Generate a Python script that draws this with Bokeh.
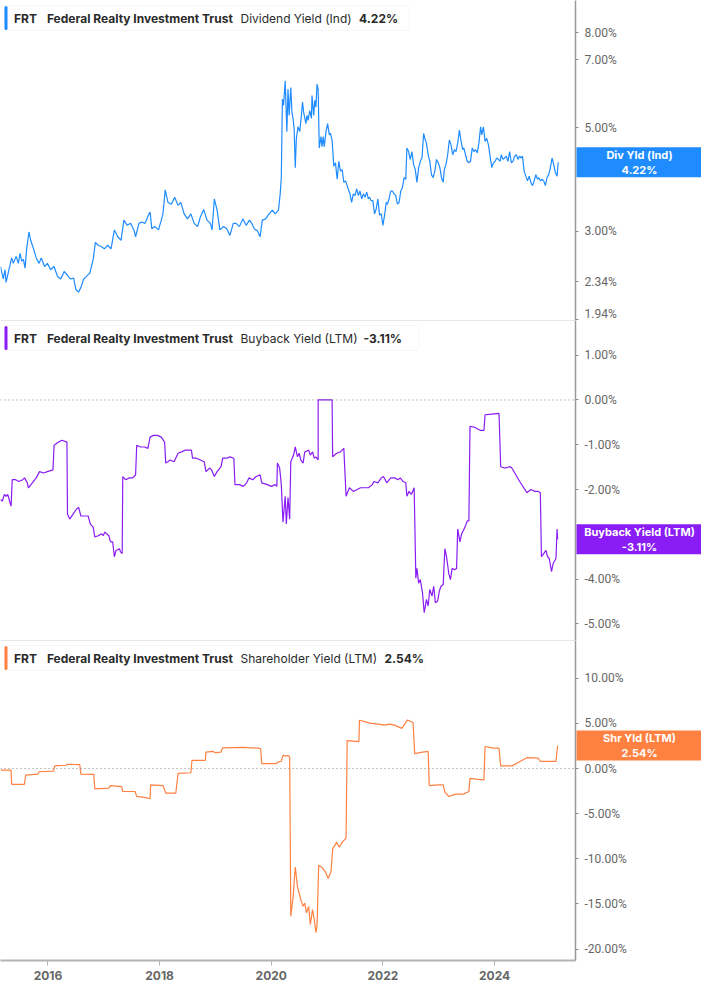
from bokeh.plotting import figure
from bokeh.layouts import column
from bokeh.models import (Range1d, FixedTicker, PrintfTickFormatter, Span, Label,
                          BoxAnnotation, GridBox)
from bokeh.core.properties import value
from bokeh.embed import file_html
from bokeh.resources import INLINE

# ---------------- data ----------------
ticker = "FRT"
company = "Federal Realty Investment Trust"
metric_names = ["Dividend Yield (Ind)", "Buyback Yield (LTM)", "Shareholder Yield (LTM)"]
short_names = ["Div Yld (Ind)", "Buyback Yield (LTM)", "Shr Yld (LTM)"]
latest = [4.22, -3.11, 2.54]

div_dates = [2015.15, 2015.20, 2015.23, 2015.25, 2015.30, 2015.35, 2015.38, 2015.43, 2015.47, 2015.50,
             2015.53, 2015.56, 2015.59, 2015.62, 2015.66, 2015.69, 2015.73, 2015.79, 2015.84, 2015.88,
             2015.94, 2015.99, 2016.05, 2016.11, 2016.17, 2016.23, 2016.29, 2016.34, 2016.40, 2016.46,
             2016.50, 2016.55, 2016.60, 2016.64, 2016.69, 2016.75, 2016.81, 2016.85, 2016.90, 2016.96,
             2017.01, 2017.07, 2017.13, 2017.19, 2017.25, 2017.31, 2017.36, 2017.42, 2017.48, 2017.54,
             2017.57, 2017.63, 2017.68, 2017.74, 2017.80, 2017.83, 2017.86, 2017.92, 2017.98, 2018.03,
             2018.06, 2018.10, 2018.15, 2018.21, 2018.27, 2018.33, 2018.38, 2018.44, 2018.50, 2018.56,
             2018.62, 2018.68, 2018.73, 2018.79, 2018.85, 2018.91, 2018.94, 2018.98, 2019.03, 2019.08,
             2019.14, 2019.20, 2019.26, 2019.32, 2019.37, 2019.43, 2019.49, 2019.55, 2019.61, 2019.65,
             2019.70, 2019.75, 2019.80, 2019.84, 2019.90, 2019.96, 2020.02, 2020.07, 2020.13, 2020.16,
             2020.18, 2020.20,
             2020.22, 2020.25, 2020.28, 2020.30, 2020.32, 2020.35, 2020.37, 2020.39, 2020.41, 2020.43,
             2020.45, 2020.48, 2020.51, 2020.54, 2020.56, 2020.58, 2020.62, 2020.64, 2020.66, 2020.69,
             2020.72, 2020.73, 2020.76, 2020.78, 2020.80, 2020.82, 2020.84, 2020.86, 2020.89, 2020.91,
             2020.93, 2020.95, 2020.98, 2021.01, 2021.04, 2021.06, 2021.09, 2021.12, 2021.15, 2021.18,
             2021.21, 2021.24, 2021.27, 2021.30, 2021.33, 2021.36, 2021.39, 2021.41, 2021.44, 2021.47,
             2021.50, 2021.53, 2021.56, 2021.59, 2021.62, 2021.65, 2021.68, 2021.71, 2021.74, 2021.76,
             2021.79, 2021.82, 2021.85, 2021.88, 2021.91, 2021.94, 2021.97, 2022.00, 2022.03, 2022.06,
             2022.08, 2022.11, 2022.14, 2022.17, 2022.20, 2022.23, 2022.26, 2022.29, 2022.32, 2022.35,
             2022.38, 2022.41, 2022.43, 2022.46, 2022.49, 2022.52, 2022.55, 2022.58, 2022.61, 2022.64,
             2022.67, 2022.70, 2022.73, 2022.75, 2022.78, 2022.81, 2022.84, 2022.87, 2022.90, 2022.93,
             2022.96, 2022.99, 2023.02, 2023.05, 2023.08, 2023.10, 2023.13, 2023.16, 2023.19, 2023.22,
             2023.25, 2023.28, 2023.31, 2023.34, 2023.37, 2023.40, 2023.43, 2023.45, 2023.48, 2023.51,
             2023.54, 2023.57, 2023.60, 2023.63, 2023.66, 2023.69, 2023.72, 2023.75, 2023.77, 2023.80,
             2023.83, 2023.86, 2023.89, 2023.92, 2023.95, 2023.98, 2024.01, 2024.04, 2024.07, 2024.10,
             2024.12, 2024.15, 2024.18, 2024.21, 2024.24, 2024.27, 2024.30, 2024.33, 2024.36, 2024.39,
             2024.42, 2024.45, 2024.47, 2024.50, 2024.53, 2024.56, 2024.59, 2024.62, 2024.65, 2024.68,
             2024.71, 2024.74, 2024.77, 2024.79, 2024.82, 2024.85, 2024.88, 2024.91, 2024.94, 2024.97,
             2025.00, 2025.03, 2025.06, 2025.09, 2025.12, 2025.14]
div_yield = [2.52, 2.37, 2.48, 2.33, 2.48, 2.63, 2.56, 2.65, 2.56, 2.69,
             2.59, 2.61, 2.50, 2.76, 2.99, 2.87, 2.78, 2.63, 2.56, 2.63,
             2.52, 2.56, 2.48, 2.52, 2.40, 2.37, 2.46, 2.42, 2.37, 2.38,
             2.25, 2.22, 2.29, 2.37, 2.40, 2.44, 2.61, 2.84, 2.80, 2.78,
             2.75, 2.80, 2.75, 3.02, 2.92, 2.87, 3.17, 3.09, 3.12, 3.02,
             2.92, 3.12, 3.14, 3.12, 3.25, 3.30, 3.04, 3.07, 3.02, 3.17,
             3.27, 3.68, 3.46, 3.43, 3.55, 3.41, 3.46, 3.27, 3.19, 3.27,
             3.12, 3.07, 3.22, 3.34, 3.17, 3.12, 3.02, 3.52, 3.33, 3.02,
             3.07, 3.04, 2.94, 3.12, 3.12, 3.07, 3.19, 3.09, 3.17, 3.12,
             3.03, 3.01, 2.92, 3.17, 3.19, 3.27, 3.33, 3.27, 3.33, 3.61,
             3.91, 5.77,
             5.59, 6.31, 4.91, 6.06, 5.32, 6.11, 5.41, 5.24, 4.99, 4.11,
             4.75, 5.03, 4.91, 5.32, 5.68, 5.41, 5.11, 5.32, 5.19, 5.45,
             5.24, 5.87, 5.32, 5.73, 5.54, 6.21, 6.06, 4.53, 4.79, 4.56,
             4.79, 4.56, 4.91, 5.11, 4.83, 4.87, 4.71, 4.14, 4.21, 3.88,
             4.24, 4.04, 4.07, 3.82, 3.85, 3.76, 3.66, 3.61, 3.46, 3.61,
             3.58, 3.70, 3.58, 3.66, 3.52, 3.61, 3.55, 3.64, 3.52, 3.55,
             3.49, 3.49, 3.27, 3.35, 3.52, 3.25, 3.27, 3.09, 3.25, 3.46,
             3.43, 3.52, 3.66, 3.66, 3.61, 3.58, 3.43, 3.46, 3.66, 3.72,
             3.91, 3.88, 4.53, 4.45, 4.28, 4.45, 4.17, 4.07, 3.82, 4.11,
             4.24, 4.31, 4.87, 4.75, 4.64, 4.38, 4.24, 3.97, 3.91, 4.04,
             4.28, 4.21, 4.11, 3.91, 3.82, 4.07, 4.17, 4.38, 4.71, 4.60,
             4.38, 4.49, 4.45, 4.64, 4.95, 4.68, 4.49, 4.53, 4.38, 4.24,
             4.21, 4.24, 4.53, 4.45, 4.49, 4.42, 4.64, 5.03, 4.83, 5.03,
             4.68, 4.75, 4.60, 4.35, 4.11, 4.21, 4.24, 4.31, 4.28, 4.24,
             4.38, 4.28, 4.31, 4.35, 4.24, 4.45, 4.21, 4.24, 4.35, 4.38,
             4.28, 4.35, 4.31, 4.35, 4.04, 3.94, 3.85, 3.94, 3.82, 3.76,
             3.85, 3.97, 3.88, 3.91, 3.85, 3.88, 3.85, 3.76, 3.91, 3.97,
             4.11, 4.31, 4.17, 4.01, 3.94, 4.22]

bb_dates = [2015.15, 2015.18, 2015.22, 2015.25, 2015.28, 2015.32, 2015.34, 2015.36, 2015.42, 2015.48,
            2015.55, 2015.58, 2015.63, 2015.65, 2015.72, 2015.79, 2015.85, 2015.92, 2015.99, 2016.09,
            2016.11, 2016.19, 2016.25, 2016.34, 2016.35, 2016.39, 2016.45, 2016.51, 2016.55, 2016.59,
            2016.66, 2016.72, 2016.76, 2016.81, 2016.84, 2016.90, 2016.96, 2016.99, 2017.02, 2017.09,
            2017.12, 2017.16, 2017.19, 2017.22, 2017.28, 2017.30, 2017.33, 2017.34, 2017.39, 2017.46,
            2017.52, 2017.57, 2017.59, 2017.66, 2017.73, 2017.79, 2017.83, 2017.89, 2017.96, 2018.03,
            2018.09, 2018.11, 2018.19, 2018.26, 2018.33, 2018.39, 2018.46, 2018.57, 2018.59, 2018.66,
            2018.73, 2018.80, 2018.83, 2018.90, 2018.93, 2018.98, 2019.03, 2019.10, 2019.13, 2019.20,
            2019.26, 2019.33, 2019.35, 2019.43, 2019.50, 2019.56, 2019.60, 2019.67, 2019.73, 2019.80,
            2019.83, 2019.93, 2020.00, 2020.07, 2020.10, 2020.11, 2020.15, 2020.18, 2020.21, 2020.25,
            2020.27, 2020.30, 2020.33, 2020.35, 2020.40, 2020.43, 2020.47, 2020.50, 2020.53, 2020.57,
            2020.60, 2020.67, 2020.70, 2020.74, 2020.77, 2020.80, 2020.84, 2020.84, 2021.09, 2021.10,
            2021.17, 2021.24, 2021.30, 2021.34, 2021.40, 2021.47, 2021.54, 2021.60, 2021.67, 2021.74,
            2021.81, 2021.84, 2021.91, 2021.97, 2022.01, 2022.07, 2022.14, 2022.21, 2022.27, 2022.31,
            2022.36, 2022.41, 2022.43, 2022.47, 2022.51, 2022.56, 2022.59, 2022.61, 2022.64, 2022.67,
            2022.71, 2022.74, 2022.78, 2022.81, 2022.84, 2022.88, 2022.91, 2022.94, 2022.98, 2023.01,
            2023.04, 2023.08, 2023.11, 2023.14, 2023.18, 2023.21, 2023.24, 2023.28, 2023.32, 2023.34,
            2023.38, 2023.41, 2023.44, 2023.48, 2023.51, 2023.54, 2023.56, 2023.64, 2023.75, 2023.81,
            2023.83, 2023.91, 2024.08, 2024.11, 2024.18, 2024.28, 2024.31, 2024.45, 2024.58, 2024.65,
            2024.72, 2024.78, 2024.82, 2024.84, 2024.88, 2024.92, 2024.95, 2024.98, 2025.02, 2025.05,
            2025.10, 2025.12, 2025.13]
bb_yield = [-2.22, -2.26, -2.11, -2.15, -2.11, -2.29, -2.37, -1.78, -1.78, -1.82,
            -1.78, -1.74, -1.85, -1.96, -1.85, -1.74, -1.60, -1.63, -1.60, -1.56,
            -1.01, -0.94, -0.90, -0.94, -2.55, -2.66, -2.55, -2.44, -2.40, -2.59,
            -2.59, -2.59, -2.77, -2.84, -3.06, -3.03, -2.99, -3.03, -2.95, -3.03,
            -3.17, -3.17, -3.50, -3.36, -3.32, -3.39, -3.43, -1.71, -1.78, -1.74,
            -1.74, -1.67, -1.01, -1.05, -1.05, -1.08, -0.83, -0.79, -0.79, -0.83,
            -0.94, -1.41, -1.34, -1.38, -1.19, -1.16, -1.12, -1.12, -1.30, -1.30,
            -1.34, -1.38, -1.60, -1.52, -1.56, -1.71, -1.60, -1.49, -1.30, -1.30,
            -1.27, -1.30, -1.89, -1.89, -1.93, -1.85, -1.74, -1.78, -1.71, -1.67,
            -1.85, -1.89, -1.93, -1.89, -1.93, -1.41, -1.52, -1.89, -2.73, -2.15,
            -2.77, -2.18, -2.66, -1.38, -1.23, -1.05, -1.27, -1.19, -1.34, -1.41,
            -1.16, -1.12, -1.23, -1.16, -1.30, -1.27, -1.34, 0.00, 0.00, -1.27,
            -1.19, -1.16, -1.08, -2.15, -1.96, -2.04, -2.00, -1.96, -1.96, -1.96,
            -1.89, -1.82, -1.85, -1.74, -1.71, -1.85, -1.74, -1.74, -1.78, -1.74,
            -1.82, -1.85, -2.15, -2.04, -2.11, -1.96, -3.98, -3.76, -4.09, -4.01,
            -4.31, -4.75, -4.45, -4.60, -4.23, -4.38, -4.16, -4.53, -4.49, -4.27,
            -4.16, -4.12, -3.32, -3.50, -3.87, -4.01, -3.76, -3.79, -3.76, -2.88,
            -3.17, -2.99, -2.92, -2.81, -2.70, -2.70, -0.59, -0.61, -0.68, -0.68,
            -0.33, -0.32, -0.30, -1.49, -1.52, -1.49, -1.52, -1.82, -2.07, -2.00,
            -2.04, -2.04, -2.07, -3.50, -3.43, -3.36, -3.50, -3.54, -3.83, -3.65,
            -3.54, -2.88, -3.11]

shr_dates = [2015.15, 2015.34, 2015.35, 2015.58, 2015.60, 2015.82, 2015.84, 2016.10, 2016.12, 2016.32,
             2016.35, 2016.57, 2016.59, 2016.82, 2016.84, 2017.09, 2017.12, 2017.32, 2017.34, 2017.56,
             2017.59, 2017.73, 2017.83, 2017.84, 2018.06, 2018.11, 2018.29, 2018.33, 2018.56, 2018.58,
             2018.82, 2018.83, 2018.96, 2019.00, 2019.10, 2019.13, 2019.50, 2019.77, 2019.81, 2019.83,
             2020.09, 2020.13, 2020.18, 2020.21, 2020.27, 2020.30, 2020.33, 2020.35, 2020.39, 2020.43,
             2020.47, 2020.50, 2020.53, 2020.57, 2020.60, 2020.63, 2020.67, 2020.70, 2020.74, 2020.77,
             2020.80, 2020.82, 2020.85, 2020.90, 2020.97, 2021.02, 2021.07, 2021.10, 2021.17, 2021.22,
             2021.27, 2021.34, 2021.36, 2021.57, 2021.58, 2021.67, 2021.77, 2021.91, 2022.04, 2022.11,
             2022.21, 2022.34, 2022.44, 2022.54, 2022.57, 2022.71, 2022.81, 2022.83, 2022.98, 2023.08,
             2023.11, 2023.18, 2023.31, 2023.44, 2023.54, 2023.56, 2023.71, 2023.81, 2023.83, 2023.98,
             2024.08, 2024.11, 2024.31, 2024.58, 2024.78, 2024.82, 2025.10, 2025.13]
shr_yield = [-0.18, -0.18, -1.75, -1.75, -0.73, -0.62, -0.36, -0.29, 0.29, 0.36,
             0.47, 0.44, -0.62, -0.65, -2.25, -2.18, -1.89, -2.00, -2.55, -2.55,
             -3.09, -3.20, -3.35, -1.82, -1.89, -2.73, -2.73, -0.55, -0.47, 0.91,
             0.91, 1.82, 1.89, 1.75, 1.82, 2.29, 2.33, 2.25, 2.18, 0.55,
             0.55, 0.73, 0.80, 1.45, 1.38, 1.45, 1.27, -16.36, -14.36, -10.91,
             -13.09, -13.82, -14.55, -15.27, -14.91, -16.00, -15.27, -17.27, -15.64, -16.73,
             -18.18, -17.45, -10.73, -10.91, -11.45, -12.18, -11.45, -8.91, -8.18, -8.73,
             -8.18, -7.71, 3.09, 2.98, 5.35, 5.20, 5.02, 4.91, 4.80, 4.91,
             4.80, 4.44, 5.38, 5.09, 1.64, 1.82, 1.89, -1.89, -1.82, -1.82,
             -2.62, -3.09, -2.84, -2.84, -2.55, -1.09, -1.20, -1.27, 2.44, 2.25,
             2.25, 0.29, 0.29, 1.20, 1.16, 0.80, 0.80, 2.54]

div_ticks = [1.94, 2.34, 3.0, 5.0, 7.0, 8.0]
bb_ticks = [1.0, 0.0, -1.0, -2.0, -4.0, -5.0]
shr_ticks = [10.0, 5.0, 0.0, -5.0, -10.0, -15.0, -20.0]
year_ticks = [2016, 2018, 2020, 2022, 2024]

colors = ["#1E8CFF", "#8A1CF5", "#FF8142"]

# ---------------- layout constants ----------------
FRAME_W = 575
RIGHT = 126
PANEL_H = 320
AXIS_H = 29
BOX_H = 30

x_range = Range1d(2015.15, 2025.45)
FONT = "Inter"


def make_panel(dates, vals, color, y_range, ticks, y_type, metric, last,
               value_x, box_right, bottom=False, zero=False, top_sep=False):
    p = figure(width=FRAME_W + RIGHT, height=PANEL_H + (AXIS_H if bottom else 0),
               x_range=x_range, y_range=y_range, y_axis_type=y_type,
               x_axis_location="below" if bottom else None, y_axis_location="right",
               output_backend="svg", toolbar_location=None,
               min_border_left=0, min_border_top=0, min_border_right=RIGHT,
               min_border_bottom=AXIS_H if bottom else 0)
    p.grid.visible = False
    p.outline_line_color = None
    p.background_fill_color = "white"
    p.border_fill_color = "white"

    ya = p.yaxis[0]
    ya.ticker = FixedTicker(ticks=ticks)
    ya.formatter = PrintfTickFormatter(format="%.2f%%")
    ya.axis_line_color = "#999999"
    ya.axis_line_width = 1.5
    ya.major_tick_line_color = "#888888"
    ya.major_tick_in = 0
    ya.major_tick_out = 3
    ya.minor_tick_line_color = None
    ya.major_label_standoff = 6
    ya.major_label_text_font = "Roboto"
    ya.major_label_text_font_size = "12px"
    ya.major_label_text_color = "#666666"

    if bottom:
        xa = p.xaxis[0]
        xa.ticker = FixedTicker(ticks=year_ticks)
        xa.axis_line_color = "#b4b4b4"
        xa.axis_line_width = 2
        xa.major_tick_line_color = "#b4b4b4"
        xa.major_tick_in = 0
        xa.major_tick_out = 5
        xa.minor_tick_line_color = None
        xa.major_label_standoff = 5
        xa.major_label_text_font = "Inter"
        xa.major_label_text_font_style = "bold"
        xa.major_label_text_font_size = "12px"
        xa.major_label_text_color = "#666666"

    if top_sep:
        p.add_layout(Span(location=y_range.end, dimension="width",
                          line_color="#d0d0d0", line_width=1))
    if zero:
        p.add_layout(Span(location=0, dimension="width", line_color="#888888",
                          line_width=1, line_dash="1 3"))

    p.line(dates, vals, line_color=color, line_width=1.2)

    # legend box (top-left)
    p.add_layout(BoxAnnotation(left=4, right=box_right, top=5, bottom=30,
                               left_units="canvas", right_units="canvas",
                               top_units="canvas", bottom_units="canvas",
                               fill_color="white", fill_alpha=1.0,
                               line_color="#e4e4e4", line_width=1, border_radius=4))
    p.add_layout(BoxAnnotation(left=4, right=7, top=5.5, bottom=29.5,
                               left_units="canvas", right_units="canvas",
                               top_units="canvas", bottom_units="canvas",
                               fill_color=color, fill_alpha=1.0, line_color=None,
                               border_radius=2))
    parts = [(13.5, ticker, "bold"), (46.4, company, "bold"), (240, metric, "normal"),
             (value_x, f"{last:.2f}%", "bold")]
    for px, txt, style in parts:
        p.add_layout(Label(x=px, y=17.5, x_units="canvas", y_units="canvas", text=txt,
                           text_font=FONT, text_font_size="12px", text_font_style=style,
                           text_color="#2a2a2a", text_align="left", text_baseline="middle"))
    return p


def make_overlay(color, y_range, y_type, short, last, bottom=False):
    """Transparent figure stacked over the panel: draws the value box on the right axis."""
    o = figure(width=FRAME_W + RIGHT, height=PANEL_H + (AXIS_H if bottom else 0),
               x_range=Range1d(0, FRAME_W + RIGHT), y_range=y_range, y_axis_type=y_type,
               x_axis_location=None, y_axis_location=None,
               output_backend="svg", toolbar_location=None,
               min_border_left=0, min_border_top=0, min_border_right=0,
               min_border_bottom=AXIS_H if bottom else 0)
    if "frame_align" in o.properties():
        o.frame_align = False
    o.grid.visible = False
    o.outline_line_color = None
    o.background_fill_color = None
    o.border_fill_color = None
    o.rect(x=[FRAME_W + 1 + RIGHT / 2], y=[last], width=[RIGHT], height=[BOX_H],
           height_units="screen", fill_color=color, line_color=None)
    o.text(x=[FRAME_W + 1 + RIGHT / 2], y=[last], text=[f"{short}\n{last:.2f}%"],
           text_font=value(FONT), text_font_size="11px", text_font_style="bold",
           text_color="white", text_align="center", text_baseline="middle",
           text_line_height=1.1)
    return column(o, spacing=0)


r1 = Range1d(1.93, 9.39)
r2 = Range1d(-5.37, 1.774)
r3 = Range1d(-21.27, 14.18)

p1 = make_panel(div_dates, div_yield, colors[0], r1, div_ticks, "log",
                metric_names[0], latest[0], 358.6, 409)
p2 = make_panel(bb_dates, bb_yield, colors[1], r2, bb_ticks, "linear",
                metric_names[1], latest[1], 363, 418.6, zero=True, top_sep=True)
p3 = make_panel(shr_dates, shr_yield, colors[2], r3, shr_ticks, "linear",
                metric_names[2], latest[2], 384, 425, bottom=True, zero=True, top_sep=True)

o1 = make_overlay(colors[0], r1, "log", short_names[0], latest[0])
o2 = make_overlay(colors[1], r2, "linear", short_names[1], latest[1])
o3 = make_overlay(colors[2], r3, "linear", short_names[2], latest[2], bottom=True)

layout = GridBox(children=[(p1, 0, 0), (o1, 0, 0), (p2, 1, 0), (o2, 1, 0),
                           (p3, 2, 0), (o3, 2, 0)], spacing=0)
open("out.html", "w").write(file_html(layout, INLINE))
